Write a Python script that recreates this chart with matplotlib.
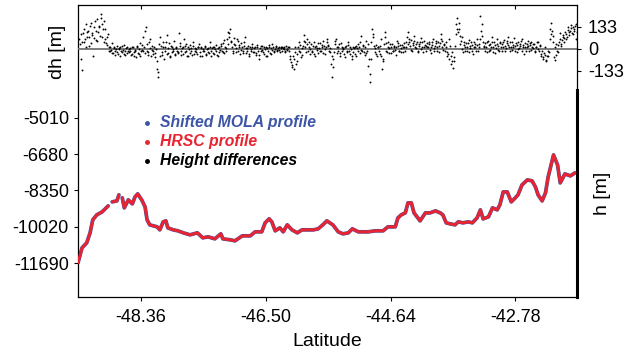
import numpy as np
import matplotlib
matplotlib.use('Agg')
import matplotlib.pyplot as plt

plt.rcParams['font.family'] = ['Liberation Sans', 'DejaVu Sans']
plt.rcParams['axes.unicode_minus'] = False

# along-track profile (latitude in deg, height in m); nan marks data gaps
lat = [-49.30, -49.24, -49.17, -49.12, -49.08, -49.02, -48.94, -48.85, np.nan,
       -48.79, -48.72, -48.69, np.nan,
       -48.64, -48.61, -48.55, -48.49, -48.45, -48.41, -48.35, -48.30, -48.27,
       -48.23, -48.12, -48.08, -48.03, -47.99, -47.96, -47.88, -47.81, -47.73,
       -47.63, -47.52, -47.44, -47.36, -47.26, -47.17, -47.14, -47.03, -46.96,
       -46.85, -46.73, -46.66, -46.56, -46.51, -46.45, -46.41, -46.36, -46.29,
       -46.24, -46.18, -46.11, -46.03, -45.96, -45.88, -45.79, -45.72, -45.65,
       -45.59, -45.50, -45.42, -45.35, -45.27, -45.21, -45.12, -44.97, -44.87,
       -44.75, -44.68, -44.57, -44.53, -44.48, -44.42, -44.38, -44.33, -44.29,
       -44.20, -44.12, -44.05, -43.97, -43.90, -43.86, -43.81, -43.75, -43.68,
       -43.63, -43.56, -43.48, -43.42, -43.35, -43.30, -43.26, -43.18, -43.12,
       -43.05, -43.01, -42.96, -42.90, -42.84, -42.78, -42.74, -42.68, -42.60,
       -42.53, -42.48, -42.44, -42.38, -42.33, -42.29, -42.21, -42.15, -42.11,
       -42.04, -41.96, -41.89]
h_hrsc = [-11680, -10990, -10760, -10300, -9702, -9472, -9334, -9058, np.nan,
          -8874, -8828, -8552, np.nan,
          -8690, -9150, -8782, -8966, -8644, -8506, -8782, -9104, -9702,
          -9932, -10024, -10162, -9794, -9748, -10070, -10162, -10208, -10300,
          -10392, -10300, -10530, -10484, -10576, -10346, -10576, -10622, -10668,
          -10438, -10438, -10254, -10254, -9840, -9656, -9794, -10208, -10070,
          -10254, -9932, -10162, -10300, -10162, -10162, -10162, -10116, -9932,
          -9748, -9932, -10254, -10346, -10300, -10116, -10254, -10254, -10208,
          -10208, -10024, -10024, -9610, -9472, -9380, -8920, -8920, -9380,
          -9748, -9380, -9380, -9288, -9380, -9472, -9840, -9886, -9932,
          -9794, -9840, -9794, -9840, -9610, -9242, -9656, -9564, -9150,
          -9242, -9012, -8414, -8414, -8874, -8690, -8552, -8092, -7862,
          -7908, -8184, -8552, -8828, -8460, -7724, -6712, -7172, -8000,
          -7586, -7678, -7540]
h_mola = h_hrsc

# height differences HRSC - MOLA along the track (two interleaved passes)
dh_start, dh_end = -49.28, -41.87
dh = [60, -60, -130, 95, 40, 150, 70, 110, 20, 160, 85, -40, 130, 55, 180, 100, 140, 210, 75, 120,
      170, 60, 25, 90, 10, -10, 35, -25, 5, -15, 20, -30, 0, 15, -20, -5, 25, -35, 10, -15,
      -20, 5, -30, 10, -45, -15, 20, -25, 0, -40, 25, -10, 15, 110, -15, -35, 40, 60, -5, -30,
      10, -50, -120, -170, 30, 70, -20, 45, -60, 15, 85, -25, 35, -45, 10, -15, 50, -30, 5, -20,
      95, 20, -35, 10, 60, -20, 30, -45, 0, 25, -10, 45, -30, 5, -20, 15, 30, -40, 10, -15,
      -10, 20, -35, 5, -25, 40, -15, 10, -30, 0, 25, -40, 15, -5, 30, -20, 55, 10, -15, 100,
      70, 120, 40, -10, 65, 25, -20, 50, 10, -30, 35, -15, 20, 75, -25, 5, -40, 15, -10, 30,
      -20, 10, -35, 25, -60, 5, -15, 20, -30, 0, 15, -45, 10, -25, 5, 30, -15, 0, 20, -10,
      10, -20, 5, 15, 0, -10, 20, -5, 10, -40, -80, -110, -60, 10, -90, -30, 40, -20, -50, 5,
      85, 40, -20, 60, 15, -30, 30, -10, 45, -40, 20, 5, -25, 35, -15, 10, 50, -30, 15, 60,
      25, -20, -90, -170, -60, 30, 60, -25, 10, -40, 35, -15, 5, -50, 20, -10, 45, -30, 0, -60,
      -20, 15, -45, 5, 30, -25, 80, -10, 20, -35, 50, -15, -100, -200, -60, 120, 90, -20, 25, -40,
      10, -30, 60, -120, -70, 100, 35, -20, 45, 5, -25, 30, -10, 15, -35, 50, 20, -15, 5, 25,
      -20, 35, 10, 70, 100, 40, 55, -15, 25, 80, 5, 45, -10, 30, 65, 15, -20, 50, 20, 35,
      10, 40, -25, 25, 60, 5, 35, -15, 45, 20, 90, 50, -5, 30, 10, -40, -30, 60, -90, -20,
      -115, -70, 150, 187, 100, 120, 30, 70, -20, 45, 15, -10, 35, 55, 5, 25, -30, 40, 10, 60,
      -15, 30, 200, 150, 45, 10, 35, -20, 50, 25, -5, 70, 15, 40, -25, 60, 20, -10, 45, 30,
      15, 55, -15, 35, 75, 10, 40, -5, 25, 65, 20, -20, 45, 5, 30, 60, 10, -30, 35, 15,
      50, -10, 25, 40, 5, 30, -20, 15, 45, -15, 20, -40, -60, -25, 10, -70, -45, -20, 120, 160,
      80, -50, -65, 30, -20, 45, 95, 20, 70, 40, 100, 60, 130, 85, 110, 145, 90, 120, 140, 60]
dh2 = [30, 90, 45, 120, 60, 15, 100, 75, 140, 35, 95, 65, 170, 110, 50, 130, 80, 190, 150, 40,
       120, 35, 70, -15, 15, -5, -25, 10, -35, 0, -20, 5, -40, -10, 20, -30, -15, 5, -25, 0,
       -10, -35, 15, -20, -5, -50, 10, -30, 35, -15, -5, 70, -25, 130, 30, -20, 5, -40, 20, -15,
       -25, 0, -70, -140, -40, 20, -35, 10, -15, 40, -30, 5, -50, 20, -20, 0, -35, 15, -10, -25,
       35, -15, 5, -30, 20, -10, -40, 15, -25, 5, -35, 20, -15, 0, -30, 10, -20, 5, -45, 0,
       15, -30, 0, -20, 10, -40, 5, -25, 15, -15, -35, 5, -20, 20, -10, 35, -25, 5, 60, 30,
       95, 50, 10, -25, 30, 5, 60, -15, 25, -5, 15, -25, 45, 5, -10, 20, -30, 0, 10, -20,
       5, -25, 15, -10, -35, 20, -5, -20, 10, -40, 5, -15, 25, -30, -5, 10, -20, 15, -5, 5,
       -5, 15, -15, 5, 10, -20, 0, 15, -10, -60, -95, -40, -120, -20, -70, 10, -10, 25, -35, 20,
       50, 10, 30, -10, 40, 0, -20, 20, -30, 10, -5, 35, 5, -15, 25, -25, 20, 0, 40, 20,
       -10, 5, -40, -110, -20, 50, 15, -10, 30, -25, 15, 0, -30, 10, -20, 25, -10, 15, -40, 10,
       5, -30, 20, -15, 10, 40, -5, 25, -20, 10, -25, 30, -60, -150, 40, 70, 20, 5, -30, 15,
       -15, 20, -40, -60, 30, 70, -10, 15, -25, 30, 10, -15, 20, -5, 10, 35, -10, 25, -20, 10,
       15, -10, 45, 30, 60, 20, -5, 35, 50, 15, 30, -20, 20, 45, 0, 40, 10, 25, -10, 15,
       30, -5, 15, 45, -10, 20, 50, 10, -20, 35, 60, 15, 25, -15, 40, -20, -60, 20, -40, -70,
       -50, 20, 90, 120, 160, 80, 50, 0, 25, -15, 35, 10, -20, 20, 40, -10, 15, 30, -15, 25,
       10, 60, 110, 80, 20, -10, 15, 40, -15, 30, 10, 45, -20, 25, 5, 30, -5, 35, 15, -10,
       40, 20, 5, 50, 25, -10, 15, 45, 10, -15, 35, 25, 0, 20, 50, -10, 25, 15, -15, 30,
       20, 35, -5, 15, 30, -15, 10, 40, 0, 25, -30, -10, -50, -35, -65, -40, -15, 60, 90, 110,
       40, 10, -35, -10, 25, 60, 30, 55, 85, 65, 90, 75, 115, 100, 125, 95, 130, 110, 150, 100]
step = (dh_end - dh_start) / (len(dh) - 1)
dh_lat = np.linspace(dh_start, dh_end, len(dh))
dh2_lat = dh_lat + step / 2

lat_ticks = [-48.36, -46.50, -44.64, -42.78]
h_ticks = [-5010, -6680, -8350, -10020, -11690]
dh_ticks = [133, 0, -133]

BLUE = '#3d55a6'
RED = '#ea2330'
W, H = 625, 362

fig = plt.figure(figsize=(W / 100, H / 100), dpi=100)
ax = fig.add_axes([78 / W, 65 / H, 499 / W, 292 / H])
axd = fig.add_axes([78 / W, 272 / H, 499 / W, 85 / H])
axd.patch.set_alpha(0)

xlim = (-49.30, -41.86)
h_lim = (-13254, 190)

# height profiles
ax.plot(lat, h_mola, color=BLUE, lw=2.7, solid_capstyle='round', zorder=2)
ax.plot(lat, h_hrsc, color=RED, lw=2.1, solid_capstyle='round', zorder=3)
ax.set_xlim(xlim)
ax.set_ylim(h_lim)
ax.set_xticks(lat_ticks)
ax.set_xticklabels([f'{v:.2f}' for v in lat_ticks])
ax.set_yticks(h_ticks)
ax.tick_params(axis='both', labelsize=13, direction='out', length=3, width=0.8)
ax.tick_params(axis='x', pad=6)
ax.set_xlabel('Latitude', fontsize=14, labelpad=5)
for s in ['left', 'top', 'bottom']:
    ax.spines[s].set_linewidth(0.9)
ax.spines['right'].set_linewidth(2.2)
ax.spines['right'].set_bounds(h_lim[0], -3722)
ax.text(1.052, 0.356, 'h [m]', transform=ax.transAxes, rotation=90,
        fontsize=14, ha='center', va='center')

# height differences panel
axd.axhline(0, color='0.45', lw=1.3, zorder=1)
axd.scatter(dh_lat, dh, s=1.9, color='black', linewidths=0, zorder=2)
axd.scatter(dh2_lat, dh2, s=1.9, color='black', linewidths=0, zorder=2)
axd.set_xlim(xlim)
axd.set_ylim(-248, 266)
for s in ['left', 'top', 'bottom']:
    axd.spines[s].set_visible(False)
axd.spines['right'].set_linewidth(0.9)
axd.yaxis.tick_right()
axd.set_yticks(dh_ticks)
axd.tick_params(axis='y', labelsize=13, direction='out', length=3, width=0.8, pad=5)
axd.set_xticks(lat_ticks)
axd.tick_params(axis='x', top=True, bottom=False, labeltop=False, labelbottom=False,
                direction='in', length=3, width=0.8)
axd.text(-0.042, 0.45, 'dh [m]', transform=axd.transAxes, rotation=90,
         fontsize=14, ha='center', va='center')

# legend as coloured markers and labels
leg = [('Shifted MOLA profile', BLUE), ('HRSC profile', RED), ('Height differences', 'black')]
for i, (txt, c) in enumerate(leg):
    y = (297 - 123 - 19 * i) / 292
    ax.plot([(147 - 78) / 499], [y], 'o', ms=2.5, color=c, transform=ax.transAxes)
    ax.text((160 - 78) / 499, y, txt, transform=ax.transAxes, color=c, fontsize=11.3,
            fontweight='bold', fontstyle='italic', ha='left', va='center')

fig.savefig('out.png', dpi=100)
